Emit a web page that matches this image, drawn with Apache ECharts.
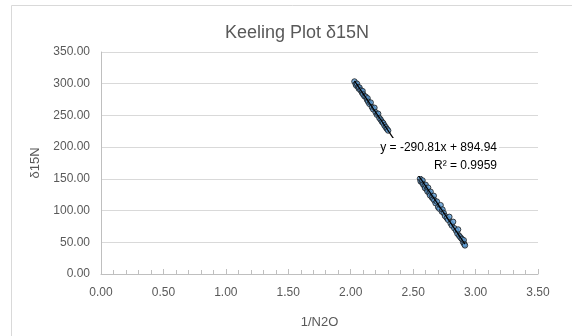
<!DOCTYPE html>
<html><head><meta charset="utf-8">
<script src="https://cdn.jsdelivr.net/npm/echarts@6/dist/echarts.min.js"></script>
<style>html,body{margin:0;padding:0;background:#fff}#c{width:572px;height:336px}</style>
</head><body><div id="c"></div>
<script>
const title = 'Keeling Plot δ15N';
const xName = '1/N2O';
const yName = 'δ15N';
const upperPts = [[2.03,303.5],[2.04,299.2],[2.045,297.0],[2.05,300.1],[2.06,294.8],[2.065,292.1],[2.07,294.0],[2.08,289.5],[2.09,286.0],[2.095,288.4],[2.10,283.1],[2.11,280.2],[2.12,279.6],[2.13,274.8],[2.135,277.0],[2.14,271.5],[2.15,268.2],[2.16,270.3],[2.17,263.0],[2.18,259.6],[2.19,262.1],[2.20,254.8],[2.21,251.0],[2.22,252.6],[2.23,245.9],[2.24,243.3],[2.25,240.1],[2.26,238.0],[2.27,234.4],[2.28,231.5],[2.29,228.7],[2.30,226.2]];
const lowerPts = [[2.555,150.2],[2.56,146.0],[2.57,144.8],[2.575,147.5],[2.58,141.2],[2.59,139.0],[2.595,135.4],[2.60,140.6],[2.61,133.2],[2.615,130.0],[2.62,136.1],[2.63,127.5],[2.635,124.0],[2.64,129.6],[2.65,120.8],[2.66,118.5],[2.665,123.2],[2.67,116.0],[2.68,111.6],[2.69,114.2],[2.70,105.4],[2.71,103.0],[2.72,108.5],[2.73,98.4],[2.735,101.6],[2.745,96.0],[2.755,91.5],[2.77,88.2],[2.78,85.4],[2.79,90.1],[2.80,80.0],[2.81,76.4],[2.82,82.3],[2.83,72.1],[2.845,68.0],[2.855,63.5],[2.86,70.2],[2.87,60.0],[2.88,57.4],[2.89,55.2],[2.90,50.0],[2.905,53.3],[2.91,47.0],[2.915,45.1]];
const slope = -290.81;
const intercept = 894.94;
const trendX = [2.03, 2.915];
const eqText = 'y = -290.81x + 894.94';
const r2Text = 'R² = 0.9959';

const pts = upperPts.concat(lowerPts);
const trend = trendX.map(x => [x, slope * x + intercept]);
const font = '"Liberation Sans", Arial, sans-serif';
const chart = echarts.init(document.getElementById('c'));
chart.setOption({
  animation: false,
  title: { text: title, left: 292, textAlign: 'center', top: 19,
    textStyle: { fontFamily: font, fontSize: 18, fontWeight: 'normal', color: '#595959' } },
  grid: { left: 101, right: 34, top: 52, bottom: 62 },
  xAxis: { type: 'value', min: 0, max: 3.5, interval: 0.5,
    name: xName, nameLocation: 'middle', nameGap: 42,
    nameTextStyle: { fontFamily: font, fontSize: 13, color: '#595959' },
    axisLine: { show: true, lineStyle: { color: '#bfbfbf' } },
    axisTick: { show: true, inside: true, length: 5, lineStyle: { color: '#bfbfbf' } },
    minorTick: { show: true, splitNumber: 5, length: 4, lineStyle: { color: '#bfbfbf' } },
    splitLine: { show: false },
    axisLabel: { margin: 13, fontFamily: font, fontSize: 12, color: '#595959', formatter: v => v.toFixed(2) } },
  yAxis: { type: 'value', min: 0, max: 350, interval: 50,
    name: yName, nameLocation: 'middle', nameGap: 54,
    nameTextStyle: { fontFamily: font, fontSize: 13, color: '#595959' },
    axisLine: { show: true, lineStyle: { color: '#bfbfbf' } },
    axisTick: { show: false },
    splitLine: { lineStyle: { color: '#d9d9d9' } },
    axisLabel: { margin: 11, fontFamily: font, fontSize: 12, color: '#595959', formatter: v => v.toFixed(2) } },
  series: [
    { type: 'line', data: trend, showSymbol: false, symbol: 'none', z: 3,
      lineStyle: { color: '#000', width: 1.2 } },
    { type: 'scatter', data: pts, symbol: 'circle', symbolSize: 5.5, z: 2,
      itemStyle: { color: '#5b9bd5', borderColor: '#1a1a1a', borderWidth: 1 } }
  ],
  graphic: [
    { type: 'rect', shape: { x: 11.5, y: 5.5, width: 600, height: 400 }, style: { fill: 'none', stroke: '#d9d9d9', lineWidth: 1 }, z: 0, silent: true },
    { type: 'rect', shape: { x: 385, y: 138, width: 114, height: 38 }, style: { fill: '#fff' }, z: 10 },
    { type: 'text', x: 497, y: 148, z: 11, style: { text: eqText, textAlign: 'right', textVerticalAlign: 'middle', fontFamily: font, fontSize: 12, fill: '#000' } },
    { type: 'text', x: 497, y: 166, z: 11, style: { text: r2Text, textAlign: 'right', textVerticalAlign: 'middle', fontFamily: font, fontSize: 12, fill: '#000' } }
  ]
});
</script></body></html>
